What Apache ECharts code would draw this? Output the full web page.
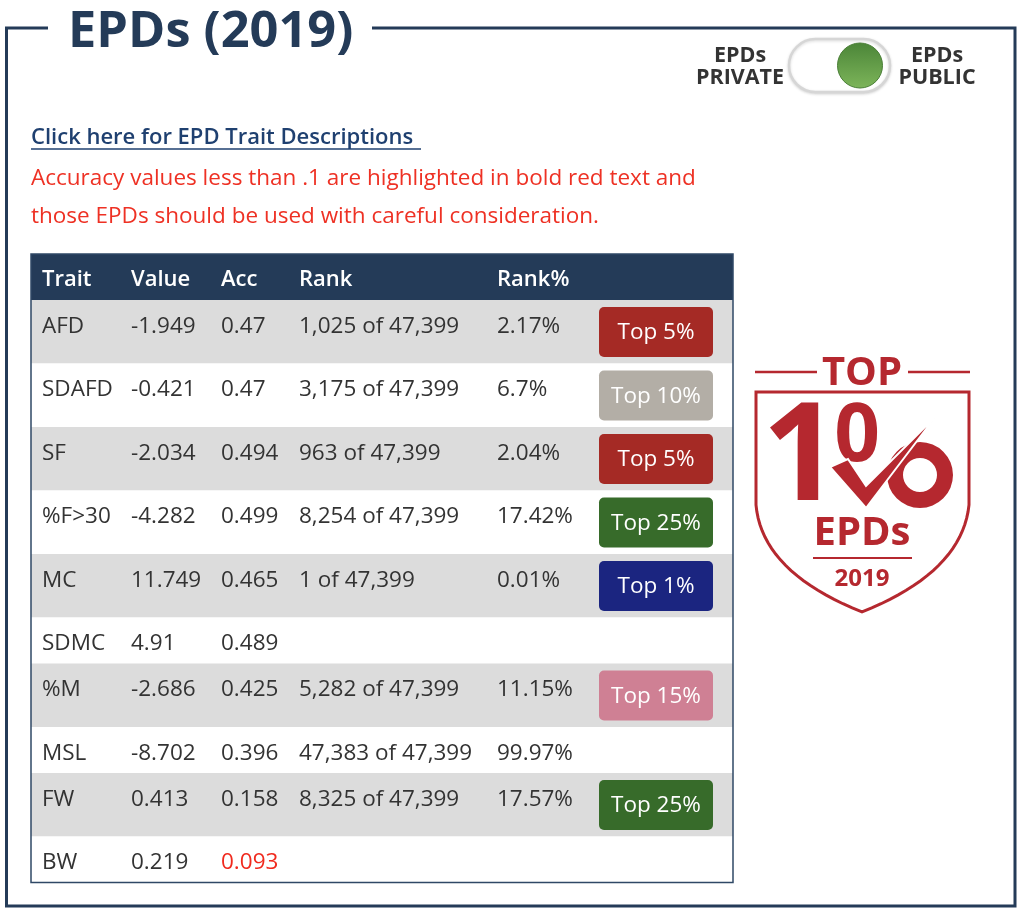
<!DOCTYPE html>
<html>
<head>
<meta charset="utf-8">
<script src="https://cdn.jsdelivr.net/npm/echarts@6/dist/echarts.min.js"></script>
<style>
html,body{margin:0;padding:0;background:#fff;}
#chart{width:1024px;height:919px;}
</style>
</head>
<body>
<div id="chart"></div>
<script>
// ---------- data ----------
const headers = ['Trait', 'Value', 'Acc', 'Rank', 'Rank%'];
const traits = ['AFD', 'SDAFD', 'SF', '%F>30', 'MC', 'SDMC', '%M', 'MSL', 'FW', 'BW'];
const values = ['-1.949', '-0.421', '-2.034', '-4.282', '11.749', '4.91', '-2.686', '-8.702', '0.413', '0.219'];
const accuracy = ['0.47', '0.47', '0.494', '0.499', '0.465', '0.489', '0.425', '0.396', '0.158', '0.093'];
const ranks = [1025, 3175, 963, 8254, 1, null, 5282, 47383, 8325, null];
const rankTotal = 47399;
const rankPct = ['2.17%', '6.7%', '2.04%', '17.42%', '0.01%', '', '11.15%', '99.97%', '17.57%', ''];
const badges = ['Top 5%', 'Top 10%', 'Top 5%', 'Top 25%', 'Top 1%', '', 'Top 15%', '', 'Top 25%', ''];
const accThreshold = 0.1;

// ---------- styles / layout ----------
const FONT = '"Open Sans", "Noto Sans", sans-serif';
const NAVY = '#243b58';
const TEXT = '#333333';
const badgeColors = {
  'Top 1%': '#1b2580',
  'Top 5%': '#a52a25',
  'Top 10%': '#b3aea6',
  'Top 15%': '#cf8094',
  'Top 25%': '#376b2a'
};
const TABLE_W = 702;
const HEAD_H = 46;
const ROW_BADGE_H = 63.5;
const ROW_PLAIN_H = 46;
const colX = [11, 100, 190, 268, 466];
const badgeX = [568, 682];

const rowHeights = traits.map((t, i) => badges[i] ? ROW_BADGE_H : ROW_PLAIN_H);
const rowTops = [];
let acc = HEAD_H;
rowHeights.forEach(h => { rowTops.push(acc); acc += h; });
const TOTAL_H = acc;

const fmt = n => n.toLocaleString('en-US');
function rankText(i) {
  return ranks[i] == null ? '' : fmt(ranks[i]) + ' of ' + fmt(rankTotal);
}

function txt(text, x, y, opts) {
  return {
    type: 'text',
    style: Object.assign({
      text: text, x: x, y: y,
      fill: TEXT,
      font: 'normal 22.5px ' + FONT,
      align: 'left', verticalAlign: 'middle'
    }, opts || {})
  };
}

const rowData = traits.map((t, i) => [i, rowTops[i], rowTops[i] + rowHeights[i]]);

function renderRow(params, api) {
  const i = api.value(0);
  const p0 = api.coord([0, api.value(1)]);
  const p1 = api.coord([TABLE_W, api.value(2)]);
  const cx = k => api.coord([colX[k], 0])[0];
  const ty = p0[1] + 26.5;
  const children = [{
    type: 'rect',
    shape: { x: p0[0], y: p0[1], width: p1[0] - p0[0], height: p1[1] - p0[1] },
    style: { fill: i % 2 === 0 ? '#dcdcdc' : '#ffffff' }
  }];
  const accVal = parseFloat(accuracy[i]);
  children.push(txt(traits[i], cx(0), ty));
  children.push(txt(values[i], cx(1), ty));
  children.push(txt(accuracy[i], cx(2), ty, accVal < accThreshold ? { fill: '#f02a1e' } : {}));
  children.push(txt(rankText(i), cx(3), ty));
  children.push(txt(rankPct[i], cx(4), ty));
  if (badges[i]) {
    const bx0 = api.coord([badgeX[0], 0])[0];
    const bx1 = api.coord([badgeX[1], 0])[0];
    const by0 = p0[1] + 7, by1 = p1[1] - 6.5;
    children.push({
      type: 'rect',
      shape: { x: bx0, y: by0, width: bx1 - bx0, height: by1 - by0, r: 5 },
      style: { fill: badgeColors[badges[i]] }
    });
    children.push(txt(badges[i], (bx0 + bx1) / 2, (by0 + by1) / 2 + 1, { fill: '#ffffff', align: 'center' }));
  }
  return { type: 'group', children: children };
}

function renderHeader(params, api) {
  const p0 = api.coord([0, 0]);
  const p1 = api.coord([TABLE_W, HEAD_H]);
  const children = [{
    type: 'rect',
    shape: { x: p0[0], y: p0[1], width: p1[0] - p0[0], height: p1[1] - p0[1] },
    style: { fill: NAVY }
  }];
  headers.forEach((h, k) => {
    children.push(txt(h, api.coord([colX[k], 0])[0], p0[1] + 25.5, { fill: '#ffffff', font: '600 22px ' + FONT }));
  });
  return { type: 'group', children: children };
}

function renderBorder(params, api) {
  const p0 = api.coord([0, 0]);
  const p1 = api.coord([TABLE_W, TOTAL_H]);
  return {
    type: 'rect',
    shape: { x: p0[0], y: p0[1], width: p1[0] - p0[0], height: p1[1] - p0[1] },
    style: { fill: 'none', stroke: '#2f4866', lineWidth: 1.5 }
  };
}

// shield outline points (decoration)
function shieldPoints() {
  const pts = [[756, 392], [969, 392], [969, 505]];
  const bez = (a, b, c, t) => (1 - t) * (1 - t) * a + 2 * (1 - t) * t * b + t * t * c;
  for (let t = 0.05; t <= 1.0001; t += 0.05) pts.push([bez(969, 962, 862, t), bez(505, 572, 612, t)]);
  for (let t = 0.05; t <= 1.0001; t += 0.05) pts.push([bez(862, 762, 756, t), bez(612, 572, 505, t)]);
  return pts;
}
const RED = '#b5282f';

const chart = echarts.init(document.getElementById('chart'), null, { renderer: 'canvas' });
chart.setOption({
  backgroundColor: '#ffffff',
  animation: false,
  grid: { left: 31, top: 254, width: TABLE_W, height: TOTAL_H },
  xAxis: { type: 'value', min: 0, max: TABLE_W, show: false },
  yAxis: { type: 'value', min: 0, max: TOTAL_H, inverse: true, show: false },
  series: [
    { type: 'custom', renderItem: renderHeader, data: [[0]], silent: true, z: 2 },
    { type: 'custom', renderItem: renderRow, data: rowData, silent: true, z: 2,
      encode: { x: 0, y: [1, 2] } },
    { type: 'custom', renderItem: renderBorder, data: [[0]], silent: true, z: 3 }
  ],
  graphic: [
    // outer frame
    { type: 'polyline', shape: { points: [[48, 28], [6.5, 28], [6.5, 906], [1015, 906], [1015, 28], [372, 28]] },
      style: { stroke: NAVY, lineWidth: 3, fill: null } },
    { type: 'text', style: { text: 'EPDs (2019)', x: 68, y: 33, font: 'bold 50.5px ' + FONT, fill: NAVY, verticalAlign: 'middle' } },
    // toggle
    { type: 'text', style: { text: 'EPDs', x: 740, y: 56, font: 'bold 21.5px ' + FONT, fill: TEXT, align: 'center', verticalAlign: 'middle' } },
    { type: 'text', style: { text: 'PRIVATE', x: 740, y: 78, font: 'bold 21.5px ' + FONT, fill: TEXT, align: 'center', verticalAlign: 'middle' } },
    { type: 'text', style: { text: 'EPDs', x: 937, y: 56, font: 'bold 21.5px ' + FONT, fill: TEXT, align: 'center', verticalAlign: 'middle' } },
    { type: 'text', style: { text: 'PUBLIC', x: 937, y: 78, font: 'bold 21.5px ' + FONT, fill: TEXT, align: 'center', verticalAlign: 'middle' } },
    { type: 'rect', shape: { x: 789, y: 39, width: 101, height: 53, r: 26.5 },
      style: { fill: '#ffffff', stroke: '#d6d6d6', lineWidth: 2.5, shadowBlur: 3, shadowColor: 'rgba(0,0,0,0.15)', shadowOffsetY: 1 } },
    { type: 'circle', shape: { cx: 860, cy: 65.5, r: 22.5 },
      style: { fill: new echarts.graphic.LinearGradient(0, 0, 0, 1, [{ offset: 0, color: '#4b8538' }, { offset: 1, color: '#7db55a' }]),
        stroke: '#4a7f37', lineWidth: 1 } },
    // link + notes
    { type: 'text', style: { text: 'Click here for EPD Trait Descriptions', x: 31, y: 138, font: '600 22px ' + FONT, fill: '#1f4070', verticalAlign: 'middle' } },
    { type: 'line', shape: { x1: 31, y1: 149, x2: 421, y2: 149 }, style: { stroke: '#1f4070', lineWidth: 1.5 } },
    { type: 'text', style: { text: 'Accuracy values less than .1 are highlighted in bold red text and', x: 31, y: 179, font: 'normal 22.5px ' + FONT, fill: '#ee3124', verticalAlign: 'middle' } },
    { type: 'text', style: { text: 'those EPDs should be used with careful consideration.', x: 31, y: 217, font: 'normal 22.5px ' + FONT, fill: '#ee3124', verticalAlign: 'middle' } },
    // shield logo
    { type: 'line', shape: { x1: 755, y1: 372, x2: 817, y2: 372 }, style: { stroke: RED, lineWidth: 2.5 } },
    { type: 'line', shape: { x1: 908, y1: 372, x2: 970, y2: 372 }, style: { stroke: RED, lineWidth: 2.5 } },
    { type: 'text', style: { text: 'TOP', x: 862, y: 374, font: 'bold 40px ' + FONT, fill: RED, align: 'center', verticalAlign: 'middle' } },
    { type: 'polygon', shape: { points: shieldPoints() }, style: { fill: null, stroke: RED, lineWidth: 3 } },
    { type: 'text', style: { text: '1', x: 801, y: 461, font: 'bold 136px ' + FONT, fill: RED, align: 'center', verticalAlign: 'middle' } },
    { type: 'text', style: { text: '0', x: 857, y: 438, font: 'bold 80px ' + FONT, fill: RED, align: 'center', verticalAlign: 'middle' } },
    { type: 'ring', shape: { cx: 920, cy: 475, r: 33, r0: 17 }, style: { fill: RED } },
    { type: 'polygon', shape: { points: [[830, 467], [848, 459], [866, 486], [936, 416], [866, 508]] }, style: { fill: RED, stroke: '#ffffff', lineWidth: 2 } },
    { type: 'text', style: { text: 'EPDs', x: 862, y: 534, font: 'bold 40px ' + FONT, fill: RED, align: 'center', verticalAlign: 'middle' } },
    { type: 'line', shape: { x1: 813, y1: 558, x2: 912, y2: 558 }, style: { stroke: RED, lineWidth: 2 } },
    { type: 'text', style: { text: '2019', x: 862, y: 579, font: 'bold 24px ' + FONT, fill: RED, align: 'center', verticalAlign: 'middle' } }
  ]
});
</script>
</body>
</html>
